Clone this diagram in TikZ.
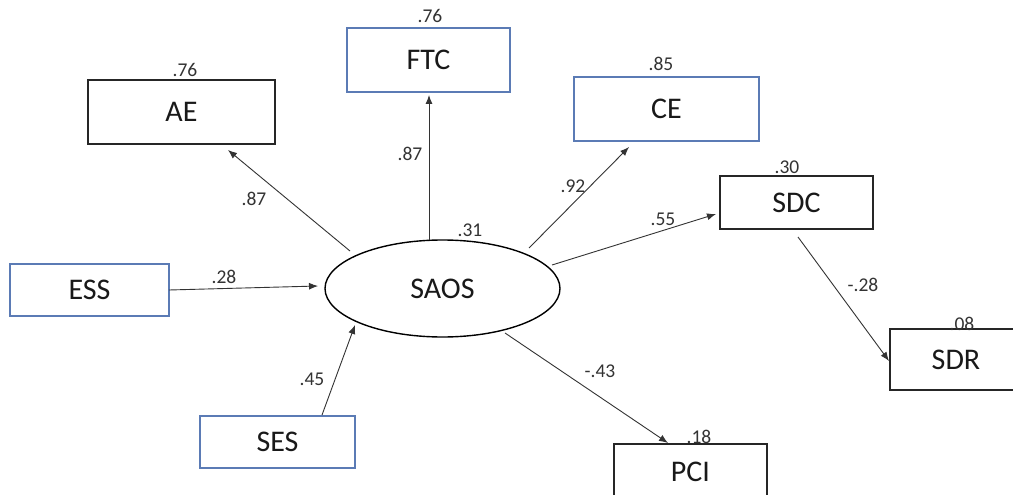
\documentclass[tikz,border=0pt]{standalone}
\usepackage{fontspec}
\setmainfont{Carlito}
\usetikzlibrary{arrows.meta,shapes.geometric}
\definecolor{boxblue}{HTML}{5B7BB5}
\definecolor{boxdark}{HTML}{262626}
\definecolor{linegray}{HTML}{333333}
\definecolor{numgray}{HTML}{333333}
\begin{document}
\begin{tikzpicture}[x=1pt,y=-1pt,
  bbox/.style={draw=boxdark,line width=1.8pt,rectangle,inner sep=0pt,text=black!90,font=\fontsize{30}{32}\selectfont},
  blbox/.style={bbox,draw=boxblue},
  num/.style={inner sep=0pt,text=numgray,font=\fontsize{19.5}{21}\selectfont},
  arr/.style={draw=linegray,line width=0.9pt,-{Latex[length=9pt,width=7pt]}}]
\useasboundingbox (0,0) rectangle (1013,495);
\clip (0,0) rectangle (1013,495);
\fill[white] (0,0) rectangle (1013,495);
% boxes
\node[bbox,minimum width=187pt,minimum height=64pt] (AE) at (181.5,112) {AE};
\node[blbox,minimum width=163pt,minimum height=64pt] (FTC) at (428.5,60) {FTC};
\node[blbox,minimum width=185pt,minimum height=64pt] (CE) at (666.5,109) {CE};
\node[bbox,minimum width=153pt,minimum height=53pt] (SDC) at (796.5,202.5) {SDC};
\node[blbox,minimum width=159pt,minimum height=52pt] (ESS) at (89.5,290) {ESS};
\node[blbox,minimum width=155pt,minimum height=52pt] (SES) at (277.5,442) {SES};
\node[bbox,minimum width=153pt,minimum height=56pt] (PCI) at (690.5,472) {PCI};
\node[bbox,minimum width=132pt,minimum height=61pt] (SDR) at (956,359.5) {SDR};
% latent
\node[ellipse,draw=black,line width=1.4pt,minimum width=235pt,minimum height=97pt,inner sep=0pt,text=black!90,font=\fontsize{30}{32}\selectfont] (SAOS) at (442.5,288.5) {SAOS};
% anchor points
\coordinate (pAE) at (228,150);
\coordinate (pFTC) at (429,95);
\coordinate (pCE) at (629,147);
\coordinate (pSDC) at (716,214);
\coordinate (pSAOSin1) at (318,286);
\coordinate (pSAOSin2) at (355,325);
\coordinate (pPCI) at (668,443);
\coordinate (pSDR) at (889,361);
\coordinate (sAE) at (350,251);
\coordinate (sFTC) at (429,240);
\coordinate (sCE) at (529,248);
\coordinate (sSDC) at (552,265);
\coordinate (sPCI) at (505,333);
\coordinate (eESS) at (169,290);
\coordinate (eSES) at (322,415);
\coordinate (eSDC) at (798,237);
% arrows
\draw[arr] (sAE) -- (pAE);
\draw[arr] (sFTC) -- (pFTC);
\draw[arr] (sCE) -- (pCE);
\draw[arr] (sSDC) -- (pSDC);
\draw[arr] (sPCI) -- (pPCI);
\draw[arr] (eESS) -- (pSAOSin1);
\draw[arr] (eSES) -- (pSAOSin2);
\draw[arr] (eSDC) -- (pSDR);
% numbers
\node[num] (nAE) at (185,70) {.76};
\node[num] (nFTC) at (430,16) {.76};
\node[num] (nCE) at (661,64) {.85};
\node[num] (nSDC) at (787,167) {.30};
\node[num] (nPCI) at (699,437) {.18};
\node[num] (nSDR) at (962,324) {.08};
\node[num] (nSAOS) at (470,230) {.31};
\node[num] (lAE) at (254,199) {.87};
\node[num] (lFTC) at (410,154) {.87};
\node[num] (lCE) at (573,186) {.92};
\node[num] (lSDC) at (663,219) {.55};
\node[num] (lESS) at (224,277) {.28};
\node[num] (lSES) at (312,379) {.45};
\node[num] (lPCI) at (600,371) {-.43};
\node[num] (lSDR) at (863,285) {-.28};
\end{tikzpicture}
\end{document}
